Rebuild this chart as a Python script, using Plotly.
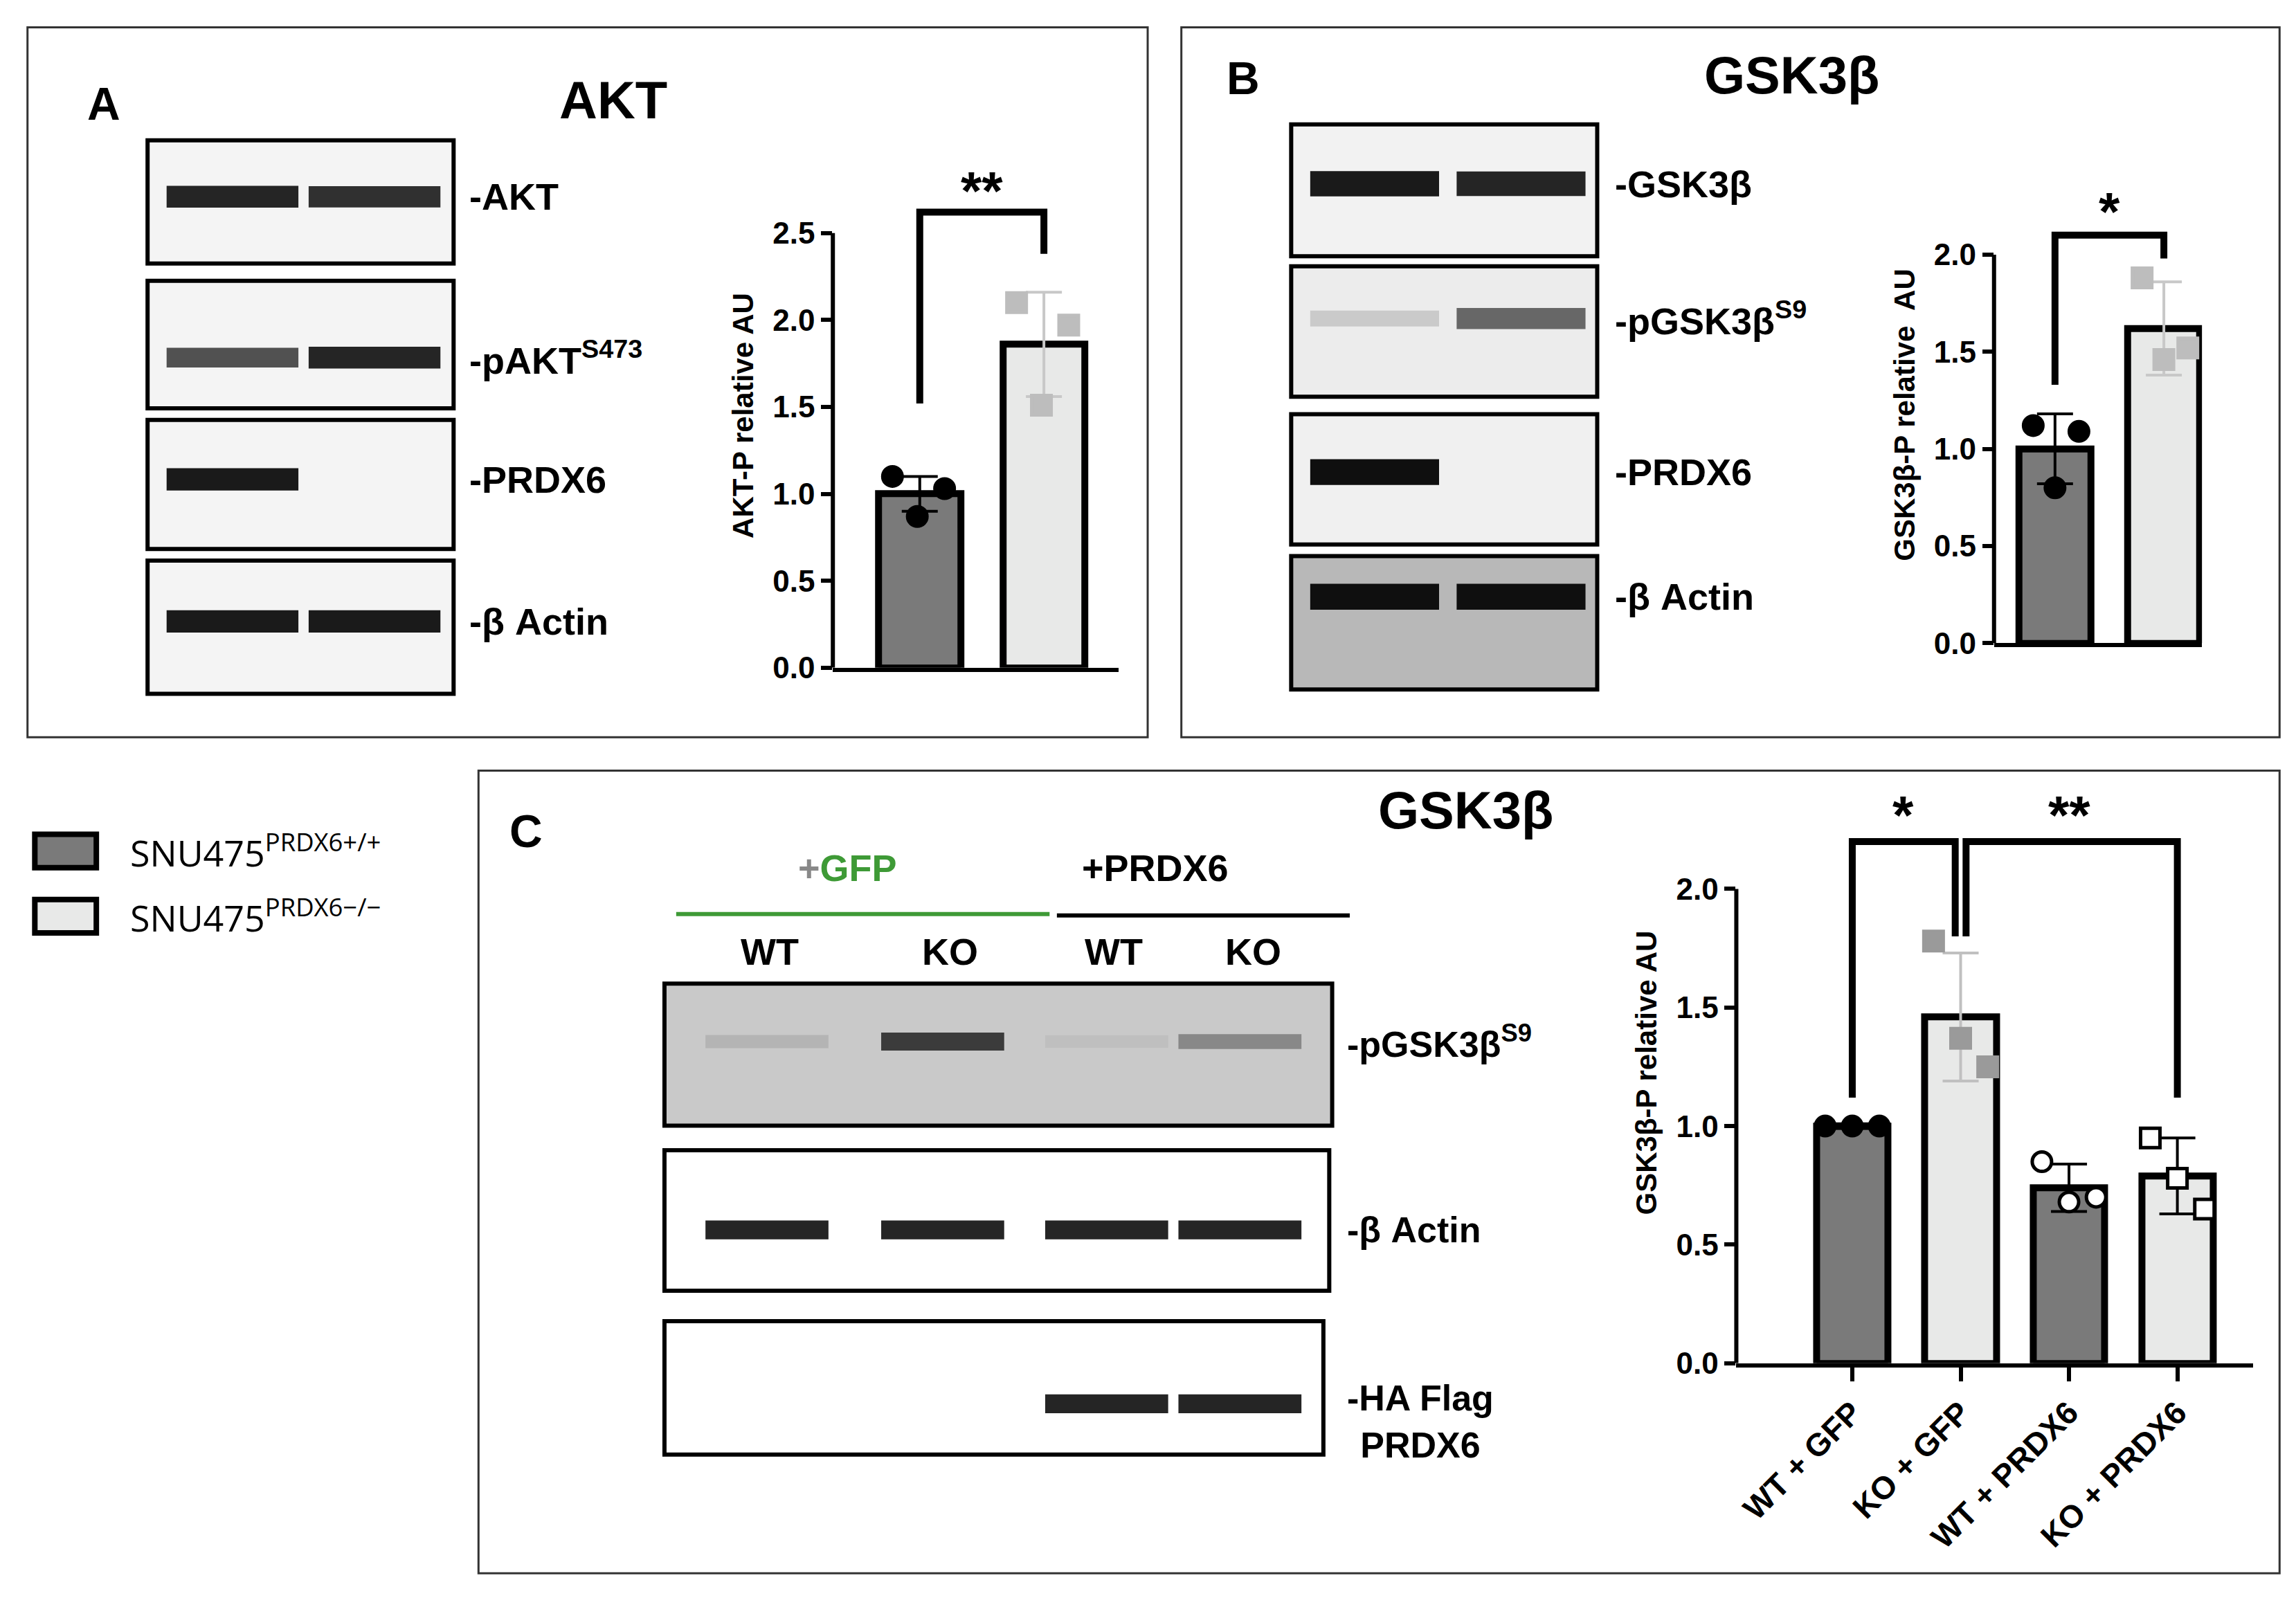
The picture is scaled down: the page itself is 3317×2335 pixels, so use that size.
import plotly.graph_objects as go

W, H = 3317, 2335
D = W / 1568  # reference sketch units -> pixels

# ---- quantified data ----
a_groups = ['WT', 'KO']
a_means = [1.0, 1.86]
a_sd = [0.1, 0.3]
a_pts_wt = [1.10, 1.03, 0.87]
a_pts_ko = [2.10, 1.97, 1.51]

b_groups = ['WT', 'KO']
b_means = [1.0, 1.62]
b_sd = [0.18, 0.24]
b_pts_wt = [1.12, 1.09, 0.80]
b_pts_ko = [1.88, 1.52, 1.46]

c_groups = ['WT + GFP', 'KO + GFP', 'WT + PRDX6', 'KO + PRDX6']
c_means = [1.0, 1.46, 0.74, 0.79]
c_sd = [0.01, 0.27, 0.10, 0.16]
c_pts = [[1.0, 1.0, 1.0], [1.78, 1.37, 1.25], [0.85, 0.68, 0.70], [0.95, 0.78, 0.65]]

# blot band intensities per lane (0 = none, 1 = black)
a_blots = {'-AKT': [0.9, 0.85], '-pAKT<sup>S473</sup>': [0.7, 0.9],
           '-PRDX6': [0.95, 0.0], '-β Actin': [0.95, 0.95]}
b_blots = {'-GSK3β': [0.95, 0.9], '-pGSK3β<sup>S9</sup>': [0.15, 0.6],
           '-PRDX6': [1.0, 0.0], '-β Actin': [1.0, 1.0]}
c_lanes = ['WT', 'KO', 'WT', 'KO']
c_blots = {'-pGSK3β<sup>S9</sup>': [0.25, 0.8, 0.2, 0.45],
           '-β Actin': [0.9, 0.9, 0.9, 0.9],
           '-HA Flag<br>PRDX6': [0.0, 0.0, 0.9, 0.9]}

DARK = '#7a7a7a'
LIGHT = '#e8e9e8'
FONT = 'Liberation Sans'
NONE = 'rgba(0,0,0,0)'

fig = go.Figure()
shapes = []


def dom_x(a, b):
    return [a * D / W, b * D / W]


def dom_y(top, bot):
    return [1 - bot * D / H, 1 - top * D / H]


# ---------- bar charts ----------
def bar_panel(ax, groups, means, sd, pts, fills, errcols, msyms, mcols, mlines, jit, ytop):
    xs = list(range(len(groups)))
    for i in xs:
        fig.add_trace(go.Bar(x=[i], y=[means[i]], width=0.66, marker_color=fills[i],
                             marker_line=dict(color='black', width=10),
                             error_y=dict(type='data', array=[sd[i]], color=errcols[i],
                                          thickness=4, width=26),
                             xaxis='x' + ax, yaxis='y' + ax, showlegend=False))
        fig.add_trace(go.Scatter(x=[i + j for j in jit], y=pts[i], mode='markers',
                                 marker=dict(symbol=msyms[i], size=28, color=mcols[i],
                                             line=dict(color=mlines[i], width=5)),
                                 xaxis='x' + ax, yaxis='y' + ax, showlegend=False,
                                 cliponaxis=False))
    # y axis line only up to the last tick
    shapes.append(dict(type='line', xref='x%s domain' % ax, yref='y' + ax, x0=0, x1=0,
                       y0=0, y1=ytop, line=dict(color='black', width=6)))


bar_panel('', a_groups, a_means, a_sd, [a_pts_wt, a_pts_ko], [DARK, LIGHT],
          ['black', '#c8c8c8'], ['circle', 'square'], ['black', '#bdbdbd'],
          ['black', '#bdbdbd'], [-0.22, 0.2, -0.02], 2.5)
bar_panel('2', b_groups, b_means, b_sd, [b_pts_wt, b_pts_ko], [DARK, LIGHT],
          ['black', '#c8c8c8'], ['circle', 'square'], ['black', '#bdbdbd'],
          ['black', '#bdbdbd'], [-0.2, 0.22, 0.0], 2.0)
bar_panel('3', c_groups, c_means, c_sd, c_pts, [DARK, LIGHT, DARK, LIGHT],
          ['black', '#c0c0c0', 'black', 'black'],
          ['circle', 'square', 'circle', 'square'],
          ['black', '#9a9a9a', 'white', 'white'], ['black', '#9a9a9a', 'black', 'black'],
          [-0.25, 0.0, 0.25], 2.0)


def bracket(ax, xs, ys):
    fig.add_trace(go.Scatter(x=xs, y=ys, mode='lines', line=dict(color='black', width=10),
                             xaxis='x' + ax, yaxis='y' + ax, showlegend=False,
                             hoverinfo='skip'))


bracket('', [0, 0, 1, 1], [1.52, 2.62, 2.62, 2.38])
bracket('2', [0, 0, 1, 1], [1.33, 2.1, 2.1, 1.98])
bracket('3', [0, 0, 0.95, 0.95], [1.12, 2.2, 2.2, 1.8])
bracket('3', [1.05, 1.05, 3, 3], [1.8, 2.2, 2.2, 1.12])

star_font = dict(family=FONT, size=78, color='black')
ann = [dict(x=0.5, y=2.74, xref='x', yref='y', text='<b>**</b>', showarrow=False, font=star_font),
       dict(x=0.5, y=2.22, xref='x2', yref='y2', text='<b>*</b>', showarrow=False, font=star_font),
       dict(x=0.47, y=2.31, xref='x3', yref='y3', text='<b>*</b>', showarrow=False, font=star_font),
       dict(x=2.0, y=2.31, xref='x3', yref='y3', text='<b>**</b>', showarrow=False, font=star_font)]

tickf = dict(family=FONT, size=44, color='black')
titf = dict(family=FONT, size=42, color='black')


def yax(dom, rng, top, title, anchor):
    vals = [i * 0.5 for i in range(int(top / 0.5) + 1)]
    return dict(domain=dom, range=rng, tickmode='array', tickvals=vals,
                ticktext=['<b>%.1f</b>' % v for v in vals], showgrid=False,
                zeroline=False, showline=False, anchor=anchor,
                ticks='outside', ticklen=16, tickwidth=6, tickcolor='black',
                tickfont=tickf, title=dict(text='<b>' + title + '</b>', font=titf, standoff=14))


def xax(dom, rng, anchor, show):
    return dict(domain=dom, range=rng, anchor=anchor, showgrid=False, zeroline=False,
                showline=True, linewidth=6, linecolor='black',
                ticks='outside' if show else '', ticklen=20, tickwidth=6, tickcolor='black',
                showticklabels=show, tickangle=-45,
                tickfont=dict(family=FONT, size=46, color='black'),
                tickmode='array', tickvals=[0, 1, 2, 3] if show else [],
                ticktext=['<b>' + g + '</b>' for g in c_groups] if show else [])


# ---------- blots on an overlay pixel axis ----------
def px_text(x, y, text, size, color='black', xanchor='left', bold=True):
    ann.append(dict(x=x * D, y=y * D, xref='x4', yref='y4',
                    text=('<b>%s</b>' % text) if bold else text,
                    showarrow=False, xanchor=xanchor,
                    font=dict(family=FONT, size=size, color=color)))


def box(x0, y0, x1, y1, fill=NONE, lw=6, col='black'):
    shapes.append(dict(type='rect', xref='x4', yref='y4', x0=x0 * D, y0=y0 * D,
                       x1=x1 * D, y1=y1 * D, line=dict(color=col, width=lw),
                       fillcolor=fill, layer='below'))


def bands(lane_x, lane_w, y, vals, thick):
    for cx, v in zip(lane_x, vals):
        if v <= 0:
            continue
        g = int(235 - 220 * v)
        fig.add_trace(go.Scatter(x=[(cx - lane_w / 2) * D, (cx + lane_w / 2) * D],
                                 y=[y * D, y * D], mode='lines',
                                 line=dict(color='rgb(%d,%d,%d)' % (g, g, g),
                                           width=thick * (0.6 + 0.5 * v)),
                                 xaxis='x4', yaxis='y4', showlegend=False, hoverinfo='skip'))


# panel frames
box(15, 15, 780, 505, lw=3, col='#333')
box(803, 15, 1553, 505, lw=3, col='#333')
box(323, 528, 1553, 1082, lw=3, col='#333')

# panel A blots
a_rows = [(93, 178, 132), (190, 278, 243), (286, 375, 327), (383, 475, 425)]
for (t, b, yb), (lab, vals) in zip(a_rows, a_blots.items()):
    box(97, t, 306, b, fill='#f4f4f4')
    bands([155, 252], 90, yb, vals, 30)
    px_text(316, yb, lab, 54)
px_text(55, 68, 'A', 66)
px_text(415, 65, 'AKT', 76, xanchor='center')

# panel B blots
b_rows = [(82, 173, 123, '#f2f2f2'), (180, 270, 216, '#ececec'),
          (282, 372, 322, '#f0f0f0'), (380, 472, 408, '#b8b8b8')]
for (t, b, yb, fill), (lab, vals) in zip(b_rows, b_blots.items()):
    box(878, t, 1087, b, fill=fill)
    bands([935, 1035], 88, yb, vals, 34)
    px_text(1098, yb, lab, 54)
px_text(833, 50, 'B', 66)
px_text(1220, 48, 'GSK3β', 76, xanchor='center')

# panel C blots
c_lx = [520, 640, 752, 843]
c_rows = [(675, 773, 715, '#c9c9c9', 906), (790, 887, 845, 'white', 904),
          (908, 1000, 965, 'white', 900)]
for (t, b, yb, fill, r), (lab, vals) in zip(c_rows, c_blots.items()):
    box(450, t, r, b, fill=fill)
    bands(c_lx, 84, yb, vals, 26)
    px_text(915, yb + (0 if 'HA' not in lab else 12), lab, 52)
for x, lab in zip([522, 645, 757, 852], c_lanes):
    px_text(x, 653, lab, 54, xanchor='center')
px_text(575, 595, '<span style="color:#888">+</span>GFP', 54, color='#3e9a36', xanchor='center')
px_text(785, 595, '+PRDX6', 54, xanchor='center')
shapes.append(dict(type='line', xref='x4', yref='y4', x0=458 * D, x1=713 * D,
                   y0=627 * D, y1=627 * D, line=dict(color='#3e9a36', width=6)))
shapes.append(dict(type='line', xref='x4', yref='y4', x0=718 * D, x1=918 * D,
                   y0=628 * D, y1=628 * D, line=dict(color='black', width=6)))
px_text(343, 570, 'C', 66)
px_text(997, 555, 'GSK3β', 76, xanchor='center')

# legend
box(20, 572, 62, 595, fill=DARK, lw=8)
box(20, 617, 62, 640, fill=LIGHT, lw=8)
for y, sup in [(583, 'PRDX6+/+'), (628, 'PRDX6−/−')]:
    ann.append(dict(x=84 * D, y=y * D, xref='x4', yref='y4', xanchor='left', showarrow=False,
                    text='SNU475<sup>%s</sup>' % sup,
                    font=dict(family='Open Sans', size=52, color='black')))

fig.update_layout(
    width=W, height=H, margin=dict(l=0, r=0, t=0, b=0),
    paper_bgcolor='white', plot_bgcolor=NONE, bargap=0,
    xaxis=xax(dom_x(565, 760), [-0.7, 1.6], 'y', False),
    yaxis=yax(dom_y(109, 457), [0, 2.9], 2.5, 'AKT-P relative AU', 'x'),
    xaxis2=xax(dom_x(1358, 1500), [-0.56, 1.35], 'y2', False),
    yaxis2=yax(dom_y(125, 440), [0, 2.35], 2.0, 'GSK3β-P relative  AU', 'x2'),
    xaxis3=xax(dom_x(1182, 1535), [-1.07, 3.7], 'y3', True),
    yaxis3=yax(dom_y(536, 937), [0, 2.45], 2.0, 'GSK3β-P relative AU', 'x3'),
    xaxis4=dict(domain=[0, 1], range=[0, W], visible=False, anchor='y4', fixedrange=True),
    yaxis4=dict(domain=[0, 1], range=[H, 0], visible=False, anchor='x4', fixedrange=True),
    shapes=shapes, annotations=ann,
)

fig.write_html("out.html")
